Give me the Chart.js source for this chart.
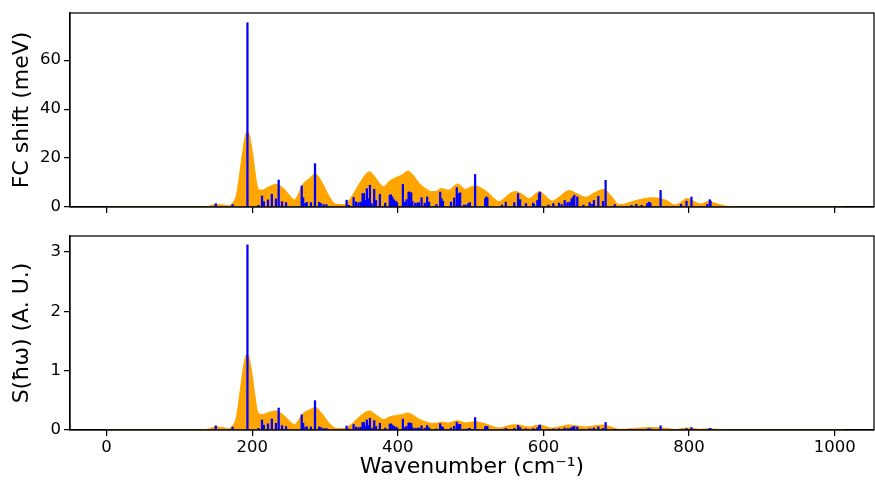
<!DOCTYPE html>
<html><head><meta charset="utf-8">
<script src="https://cdn.jsdelivr.net/npm/chart.js@4"></script>
<style>
html,body{margin:0;padding:0;background:#fff;width:875px;height:482px;overflow:hidden}
canvas{position:absolute;left:0}
#c1{top:0}
#c2{top:220px}
</style></head><body>
<canvas id="c1" width="875" height="220" style="width:875px;height:220px"></canvas>
<canvas id="c2" width="875" height="262" style="width:875px;height:262px"></canvas>
<script>
// Broadened spectrum (orange area)
const curveWave = [0,120,140,150,160,168,173,178,183,186,189,192,195,198,201,204,207,210,214,220,233,245,252,258,263,269,278,287,296,306,315,326,335,347,355,361,368,377,381,388,397,405,414,421,430,438,446,452,459,465,470,476,482,488,493,500,507,516,525,532,539,546,553,562,571,580,587,594,603,612,622,635,647,658,670,683,693,704,712,722,735,749,760,770,781,789,797,806,816,822,827,835,850,865,1012];
const curveFC = [0,0,0.3,1.0,0.8,0.5,1.6,4.5,14,20.5,26.5,30.2,30.3,26.5,21,14,8.5,7.0,6.9,7.8,9.3,7,4.5,2.9,5,9,11.5,13.5,10,4.2,1.2,1.0,3.5,9.4,13,14.4,12.5,9,8.3,10.5,12,13,14.7,13,9.5,7.6,6.3,6.3,7.6,7.2,6.9,8.2,9.4,8.3,7.2,8.2,8.6,7.5,5.6,3.5,2.2,3.5,5.3,6.3,5.2,3.5,4.8,6.3,4.5,2.4,4.2,6.7,5.3,4.0,5.8,7.2,4.5,1.0,1.2,2.2,3.2,3.8,3.5,2.5,0.8,2,3.5,2.4,1.2,1.8,2.4,1.6,0.4,0,0];
const curveS = [0,0,0.017,0.054,0.040,0.024,0.075,0.204,0.617,0.889,1.131,1.268,1.253,1.079,0.843,0.553,0.331,0.269,0.260,0.286,0.322,0.230,0.144,0.091,0.153,0.270,0.333,0.379,0.272,0.111,0.031,0.025,0.084,0.219,0.295,0.322,0.274,0.193,0.176,0.218,0.244,0.259,0.286,0.249,0.178,0.140,0.114,0.1125,0.134,0.125,0.118,0.139,0.157,0.137,0.118,0.132,0.137,0.117,0.086,0.053,0.033,0.052,0.077,0.090,0.073,0.049,0.066,0.0855,0.060,0.032,0.054,0.085,0.066,0.049,0.070,0.085,0.052,0.011,0.0136,0.025,0.035,0.041,0.037,0.026,0.008,0.020,0.035,0.024,0.012,0.018,0.023,0.015,0.004,0,0];

// Individual phonon modes (blue sticks)
const modeWave = [150,173,193.5,208.5,213.5,216,221.7,227,232.7,236.4,241,246.5,268,270,273,275,280.7,286.3,292,294,298,302,329.7,333,339.3,342.5,346,349,351.6,353.5,356,357.5,360,361.7,364,367.6,370,375.4,382.7,389,390.5,392.4,394.6,397,399,407,410,412,414.8,416,418.4,420,424,427,429,432.6,437,440.3,443,453,458.2,460,462,473,477.4,481,482.6,485.6,491,494,497,499,506.2,520,521.5,523,543,548.3,560,565.2,568,576,585.7,587,591.7,594,595.3,607,613.6,621.4,625,629.2,633,636,638.8,641,642.4,646.5,655,663.5,667,669.4,675.4,681.8,685.4,698,721,727.5,735,742.5,745,747,760.9,789,796.5,803.3,825,828.5,829.5];
const modeFC = [1.35,1.0,75.3,0.7,4.5,2.2,2.9,5.2,3.3,11.0,2.2,1.8,8.6,3.8,1.5,1.9,1.8,17.7,1.9,1.5,1.0,1.0,2.8,0.7,3.9,2.1,1.8,2.0,5.5,5.5,2.7,7.5,3.4,8.9,1.4,7.2,2.7,5.2,1.6,4.8,5.0,4.1,3.0,2.4,1.8,9.3,2.0,3.0,6.1,6.1,5.8,2.3,1.6,1.6,1.8,3.8,1.6,4.1,2.0,1.0,6.1,3.4,2.4,2.0,3.7,7.9,5.5,5.8,0.8,0.8,1.4,1.8,13.3,3.4,4.1,3.8,0.8,2.0,1.8,5.5,3.0,1.4,1.6,1.1,2.7,5.5,6.1,0.8,1.4,1.6,1.0,2.7,1.8,2.0,3.4,4.1,4.8,4.1,0.8,1.8,1.1,2.7,4.4,2.3,10.9,1.0,0.7,1.1,0.7,1.4,2.0,1.6,6.8,1.1,2.4,4.1,1.1,3.0,2.4];
const modeS = [0.07,0.047,3.12,0.027,0.17,0.082,0.105,0.185,0.114,0.37,0.074,0.059,0.255,0.113,0.044,0.056,0.052,0.495,0.052,0.041,0.027,0.027,0.068,0.017,0.093,0.049,0.042,0.046,0.126,0.125,0.061,0.169,0.076,0.198,0.031,0.158,0.059,0.112,0.034,0.0995,0.103,0.084,0.061,0.049,0.036,0.184,0.039,0.059,0.119,0.118,0.112,0.044,0.030,0.030,0.034,0.071,0.030,0.075,0.036,0.018,0.107,0.060,0.042,0.034,0.0625,0.132,0.092,0.096,0.013,0.013,0.023,0.029,0.21,0.053,0.063,0.059,0.012,0.029,0.026,0.078,0.043,0.020,0.022,0.015,0.037,0.075,0.083,0.011,0.018,0.021,0.013,0.035,0.023,0.025,0.043,0.052,0.060,0.051,0.010,0.022,0.013,0.033,0.053,0.027,0.128,0.012,0.008,0.012,0.008,0.015,0.022,0.017,0.072,0.011,0.024,0.041,0.011,0.029,0.023];

const xTicks = [0,200,400,600,800,1000];
const fcTicks = [0,20,40,60];
const sTicks = [0,1,2,3];
const baseWave = [0,1012];

const FONT = 'DejaVu Sans';
const TICK_SIZE = 16.5;
const TITLE_SIZE = 22;
const pts = (xs, ys) => xs.map((x,i)=>({x:x, y:ys[i]}));

const frame = {
  id:'frame',
  afterDraw(chart){
    const {ctx, chartArea:a} = chart;
    ctx.save();
    ctx.strokeStyle = '#000';
    ctx.lineWidth = 1.25;
    ctx.strokeRect(a.left, a.top, a.right-a.left, a.bottom-a.top);
    ctx.restore();
  }
};

function makeChart(id, cy, my, yMax, yTicks, yTitle, showXLabels, padTop, xHeight) {
  return new Chart(document.getElementById(id), {
    type:'line',
    data:{datasets:[
      {type:'bar', data: pts(modeWave, my), backgroundColor:'#0000FF', borderWidth:0, barThickness:1.6, grouped:false, order:1},
      {type:'line', data: pts(baseWave, [0,0]), borderColor:'#4a3200', borderWidth:1.3, pointRadius:0, fill:false, order:2},
      {type:'line', data: pts(curveWave, cy), borderColor:'#FFA500', backgroundColor:'#FFA500', borderWidth:1, pointRadius:0, fill:'origin', cubicInterpolationMode:'monotone', order:3}
    ]},
    options:{
      responsive:false, animation:false, devicePixelRatio:1,
      layout:{padding:{top:padTop, right:1, left:0, bottom:0}},
      plugins:{legend:{display:false}, tooltip:{enabled:false}},
      scales:{
        x:{
          type:'linear', min:-50.2, max:1054, offset:false,
          afterFit(s){ s.height = xHeight; },
          afterBuildTicks(s){ s.ticks = xTicks.map(v=>({value:v})); },
          grid:{drawOnChartArea:false, drawTicks:true, tickLength:6, color:'#000', lineWidth:1.25, offset:false},
          border:{display:true, color:'#000', width:1.25},
          ticks:{display:true, color:'#000', padding:2, maxRotation:0, autoSkip:false,
                 font:{family:FONT, size:TICK_SIZE},
                 callback:(v)=> showXLabels ? String(v) : ''},
          title:{display:showXLabels, text:'Wavenumber (cm\u207B\u00B9)', color:'#000',
                 font:{family:FONT, size:TITLE_SIZE}, padding:{top:0, bottom:2}}
        },
        y:{
          type:'linear', min:0, max:yMax,
          afterFit(s){ s.width = 70; },
          afterBuildTicks(s){ s.ticks = yTicks.map(v=>({value:v})); },
          grid:{drawOnChartArea:false, drawTicks:true, tickLength:6, color:'#000', lineWidth:1.25},
          border:{display:true, color:'#000', width:1.25},
          ticks:{color:'#000', padding:3, font:{family:FONT, size:TICK_SIZE}},
          title:{display:true, text:yTitle, color:'#000', font:{family:FONT, size:TITLE_SIZE}, padding:{top:9, bottom:0}}
        }
      }
    },
    plugins:[frame]
  });
}

makeChart('c1', curveFC, modeFC, 79.3, fcTicks, 'FC shift (meV)', false, 13, 13);
makeChart('c2', curveS, modeS, 3.27, sTicks, 'S(\u0127\u03C9) (A. U.)', true, 16, 52);
</script>
</body></html>
